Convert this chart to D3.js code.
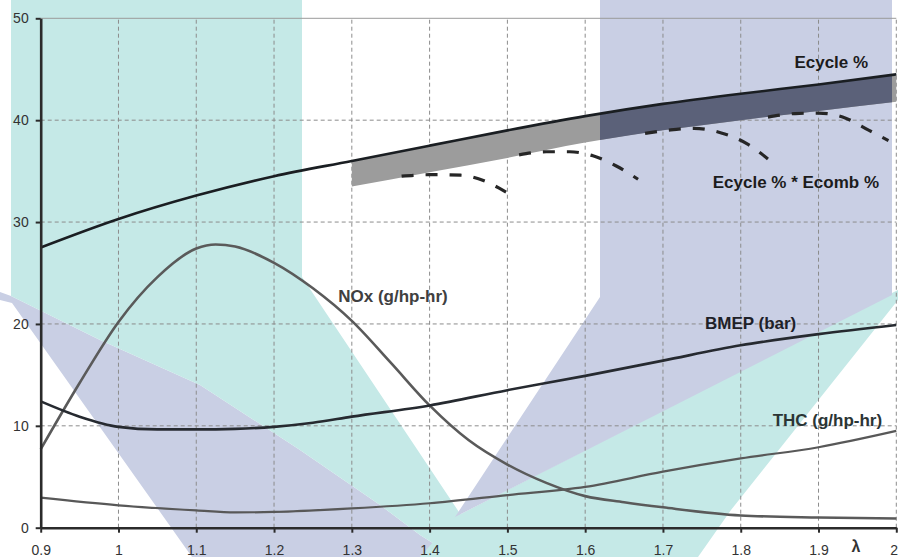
<!DOCTYPE html>
<html>
<head>
<meta charset="utf-8">
<script src="https://cdn.jsdelivr.net/npm/d3@7"></script>
<style>
  html, body { margin: 0; padding: 0; background: #fff; }
  svg { display: block; }
</style>
</head>
<body>
<svg id="chart" width="898" height="557"></svg>
<script>
// ---- data: engine performance vs. excess-air ratio (lambda) ----
const lambdaGrid = [0.9, 1.0, 1.1, 1.2, 1.3, 1.4, 1.5, 1.6, 1.7, 1.8, 1.9, 2.0];
const ecyclePct  = [27.5, 30.3, 32.6, 34.5, 36.0, 37.5, 39.0, 40.4, 41.6, 42.6, 43.5, 44.5];

// lower edge of the shaded efficiency band
const bandLambda   = [1.3, 1.4, 1.5, 1.6, 1.7, 1.8, 1.9, 2.0];
const ecycleBandLo = [33.5, 34.9, 36.3, 37.8, 39.0, 40.0, 40.9, 41.8];

const noxLambda = [0.9, 0.95, 1.0, 1.05, 1.1, 1.125, 1.15, 1.2, 1.25, 1.3, 1.35, 1.4, 1.45, 1.5, 1.55, 1.6, 1.65, 1.7, 1.8, 1.9, 2.0];
const noxValues = [7.7, 14.2, 20.2, 24.6, 27.4, 27.8, 27.6, 26.0, 23.5, 20.3, 16.2, 12.0, 8.6, 6.2, 4.4, 3.1, 2.5, 2.0, 1.2, 1.0, 0.9];

const bmepLambda = [0.9, 0.95, 1.0, 1.05, 1.1, 1.15, 1.2, 1.25, 1.3, 1.4, 1.5, 1.6, 1.7, 1.8, 1.9, 2.0];
const bmepValues = [12.4, 10.9, 9.9, 9.65, 9.65, 9.7, 9.9, 10.3, 10.9, 12.0, 13.5, 14.9, 16.4, 17.9, 19.0, 19.9];

const thcLambda = [0.9, 1.0, 1.1, 1.15, 1.2, 1.3, 1.4, 1.5, 1.6, 1.7, 1.8, 1.9, 2.0];
const thcValues = [2.95, 2.2, 1.7, 1.5, 1.55, 1.9, 2.4, 3.2, 4.0, 5.5, 6.8, 7.9, 9.5];

// Ecycle % * Ecomb % arcs (one per operating segment)
const comb1Lambda = [1.364, 1.40, 1.44, 1.47, 1.49, 1.506];
const comb1Values = [34.5, 34.65, 34.6, 34.05, 33.3, 32.6];
const comb2Lambda = [1.515, 1.55, 1.58, 1.61, 1.64, 1.668];
const comb2Values = [36.6, 36.9, 36.9, 36.5, 35.5, 34.2];
const comb3Lambda = [1.677, 1.71, 1.74, 1.775, 1.81, 1.835];
const comb3Values = [38.7, 39.05, 39.2, 38.75, 37.6, 36.2];
const comb4Lambda = [1.835, 1.87, 1.90, 1.935, 1.965, 1.99];
const comb4Values = [40.3, 40.65, 40.7, 40.2, 39.0, 38.0];

const xTicks      = [0.9, 1.0, 1.1, 1.2, 1.3, 1.4, 1.5, 1.6, 1.7, 1.8, 1.9, 2.0];
const xTickLabels = ["0.9", "1", "1.1", "1.2", "1.3", "1.4", "1.5", "1.6", "1.7", "1.8", "1.9", "2"];
const yTicks      = [0, 10, 20, 30, 40, 50];

// ---- layout ----
const svg = d3.select("#chart");
const FONT = "'Liberation Sans', Arial, sans-serif";

const x = d3.scaleLinear().domain([0.9, 2.0]).range([40.7, 896.3]);
const y = d3.scaleLinear().domain([0, 50]).range([527.7, 18.3]);

// ---- backdrop ribbons ----
const tealFill = "#c5e9e7", lavFill = "#c9cfe4";
const ribbons = [
  { fill: lavFill,  pts: [[0,292],[11,296],[100,340],[200,385],[300,450],[380,505],[420,535],[455,557],[192,557],[12,303],[0,300]] },
  { fill: tealFill, pts: [[11,0],[302,0],[302,277],[489,557],[455,557],[420,535],[380,505],[300,450],[200,385],[100,340],[11,296]] },
  { fill: tealFill, pts: [[892,293],[898,290],[898,300],[731,510],[698,557],[420,557],[455,517]] },
  { fill: lavFill,  pts: [[600,0],[892,0],[892,295],[455,517],[600,297]], id: "lavRight" }
];
const backdrop = svg.append("g");
ribbons.forEach(r => {
  backdrop.append("polygon")
    .attr("points", r.pts.map(p => p.join(",")).join(" "))
    .attr("fill", r.fill);
});
const rightLav = ribbons.find(r => r.id === "lavRight");
svg.append("defs").append("clipPath").attr("id", "lavClip")
  .append("polygon").attr("points", rightLav.pts.map(p => p.join(",")).join(" "));

// ---- grid ----
const grid = svg.append("g");
grid.selectAll("line.vx").data(xTicks.slice(1)).join("line")
  .attr("x1", d => x(d)).attr("x2", d => x(d))
  .attr("y1", y(0)).attr("y2", y(50))
  .attr("stroke", "#8c8c8c").attr("stroke-width", 1).attr("stroke-dasharray", "4,3");
grid.selectAll("line.hy").data(yTicks.filter(v => v > 0 && v < 50)).join("line")
  .attr("x1", x(0.9)).attr("x2", x(2.0))
  .attr("y1", d => y(d)).attr("y2", d => y(d))
  .attr("stroke", "#8c8c8c").attr("stroke-width", 1).attr("stroke-dasharray", "4,3");
grid.append("line")
  .attr("x1", x(0.9)).attr("x2", x(2.0)).attr("y1", y(50)).attr("y2", y(50))
  .attr("stroke", "#9a9a9a").attr("stroke-width", 1);

// ---- shaded band between Ecycle % and its lower bound ----
const bandData = bandLambda.map((l, i) => ({
  l, hi: ecyclePct[lambdaGrid.findIndex(g => Math.abs(g - l) < 1e-9)], lo: ecycleBandLo[i]
}));
const band = d3.area().x(d => x(d.l)).y0(d => y(d.lo)).y1(d => y(d.hi)).curve(d3.curveMonotoneX);
svg.append("path").attr("d", band(bandData)).attr("fill", "#9c9c9c");
svg.append("path").attr("d", band(bandData)).attr("fill", "#5b6179").attr("clip-path", "url(#lavClip)");

// ---- curves ----
const line = d3.line().x(d => x(d[0])).y(d => y(d[1])).curve(d3.curveMonotoneX);
const zip = (a, b) => a.map((v, i) => [v, b[i]]);

const curves = [
  { data: zip(thcLambda, thcValues),   stroke: "#585858", width: 2.2 },
  { data: zip(noxLambda, noxValues),   stroke: "#5a5a5a", width: 2.6 },
  { data: zip(bmepLambda, bmepValues), stroke: "#262a30", width: 2.6 },
  { data: zip(lambdaGrid, ecyclePct),  stroke: "#1a1e22", width: 2.6 }
];
curves.forEach(c => {
  svg.append("path").attr("d", line(c.data))
    .attr("fill", "none").attr("stroke", c.stroke).attr("stroke-width", c.width)
    .attr("stroke-linejoin", "round");
});

[[comb1Lambda, comb1Values], [comb2Lambda, comb2Values], [comb3Lambda, comb3Values], [comb4Lambda, comb4Values]]
  .forEach(([ls, vs]) => {
    svg.append("path").attr("d", line(zip(ls, vs)))
      .attr("fill", "none").attr("stroke", "#262626").attr("stroke-width", 3.2)
      .attr("stroke-dasharray", "12,12");
  });

// ---- axes ----
const yAxis = svg.append("g").attr("transform", `translate(${x(0.9)},0)`)
  .call(d3.axisLeft(y).tickValues(yTicks).tickSize(5).tickSizeOuter(0).tickPadding(7).tickFormat(d3.format("d")));
const xAxis = svg.append("g").attr("transform", `translate(0,${y(0)})`)
  .call(d3.axisBottom(x).tickValues(xTicks).tickSize(5).tickSizeOuter(0).tickPadding(12)
    .tickFormat((d, i) => xTickLabels[i]));
[yAxis, xAxis].forEach(a => {
  a.select(".domain").attr("stroke", "#2b2b2b").attr("stroke-width", 2.6);
  a.selectAll(".tick line").attr("stroke", "#2b2b2b").attr("stroke-width", 2);
  a.selectAll(".tick text").attr("fill", "#333").style("font-family", FONT).style("font-size", "14px");
});
// keep the last tick label inside the drawing area
xAxis.selectAll(".tick text").filter(d => d === xTicks[xTicks.length - 1])
  .attr("text-anchor", "end").attr("dx", 1.2);

svg.append("text").text("λ")
  .attr("x", x(1.948)).attr("y", 552).attr("text-anchor", "middle")
  .attr("fill", "#333").style("font-family", FONT).style("font-size", "16px").style("font-weight", "bold");

// ---- series labels ----
const labels = [
  { t: "Ecycle %",           l: 1.869, v: 45.14, c: "#1c1c1c" },
  { t: "Ecycle % * Ecomb %", l: 1.764, v: 33.34, c: "#1c1c1c" },
  { t: "NOx (g/hp-hr)",      l: 1.2825, v: 22.13, c: "#404040" },
  { t: "BMEP (bar)",         l: 1.754, v: 19.5,  c: "#1e2128" },
  { t: "THC (g/hp-hr)",      l: 1.841, v: 10.03, c: "#2b3535" }
];
svg.selectAll("text.series").data(labels).join("text")
  .attr("class", "series")
  .attr("x", d => x(d.l)).attr("y", d => y(d.v))
  .attr("fill", d => d.c)
  .style("font-family", FONT).style("font-size", "17px").style("font-weight", "bold")
  .text(d => d.t);
</script>
</body>
</html>
